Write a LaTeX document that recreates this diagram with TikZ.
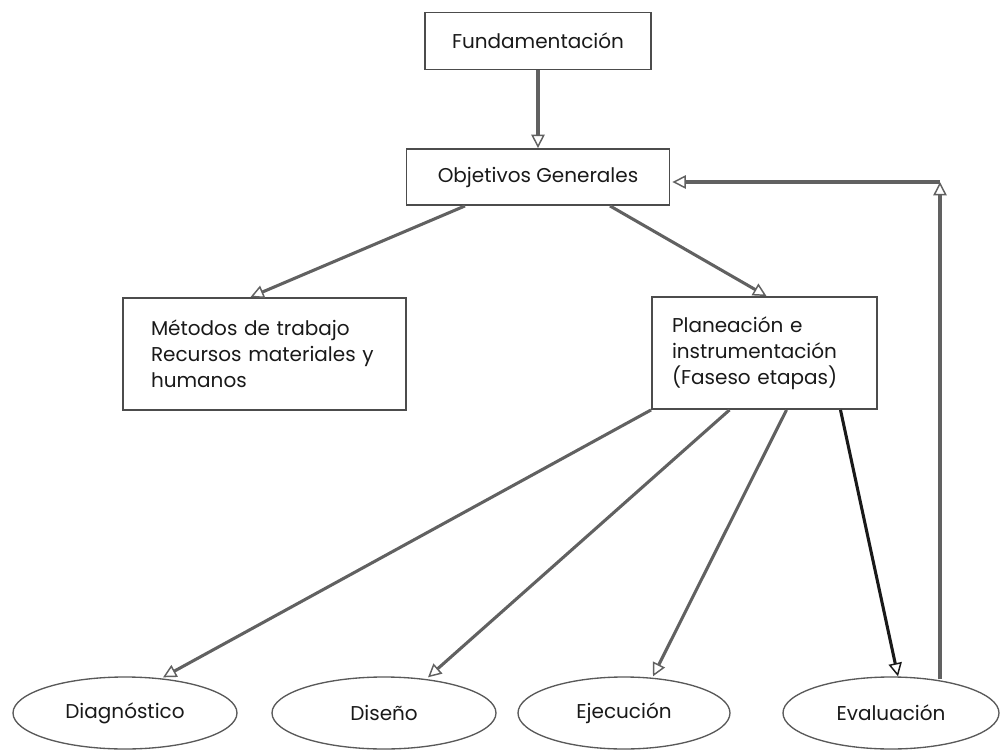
\documentclass[tikz,border=0pt]{standalone}
\usepackage{fontspec}
\setmainfont{Poppins}
\usetikzlibrary{calc}
\usetikzlibrary{shapes.geometric}
\usetikzlibrary{arrows.meta}

\newcommand{\pxu}{0.75pt}

\begin{document}
\begin{tikzpicture}[x=0.75pt,y=-0.75pt,
	box/.style={draw=black!70,line width=1.4pt,inner sep=0pt,font=\fontsize{15}{19.5}\selectfont,text=black!90},
	oval/.style={ellipse,draw=black!65,line width=1pt,inner sep=0pt,minimum height=72*\pxu,font=\fontsize{15}{19.5}\selectfont,text=black!90},
	arr/.style={draw=black!62,line width=2.3pt,-{Triangle[open,length=10pt,width=10pt,line width=1.1pt]}},
	darr/.style={draw=black!90,line width=2.3pt,-{Triangle[open,length=10pt,width=10pt,line width=1.1pt]}}]
	\useasboundingbox (0,0) rectangle (1001,750);
	\node [box,minimum width=226*\pxu,minimum height=57*\pxu] (fund) at (538,41) {Fundamentación};
	\node [box,minimum width=263*\pxu,minimum height=56*\pxu] (obj) at (538,177) {Objetivos Generales};
	\node [box,minimum width=283*\pxu,minimum height=112*\pxu,text width=227*\pxu,inner xsep=28*\pxu,align=left] (met) at (264.5,354) {Métodos de trabajo\\Recursos materiales y\\humanos};
	\node [box,minimum width=225*\pxu,minimum height=112*\pxu,text width=185*\pxu,inner xsep=20*\pxu,align=left] (plan) at (764.5,353) {Planeación e\\instrumentación\\(Faseso etapas)};
	\node [oval,minimum width=224*\pxu] (diag) at (125,713) {Diagnóstico};
	\node [oval,minimum width=224*\pxu] (dis) at (384,713) {Diseño};
	\node [oval,minimum width=212*\pxu] (eje) at (624,713) {Ejecución};
	\node [oval,minimum width=216*\pxu] (eva) at (891,713) {Evaluación};
	\coordinate (corner) at (940,182);
	\draw [arr] (fund) -- (obj);
	\draw [arr] ($(obj.south)+(-73,0)$) -- ($(met.north)+(-14,0)$);
	\draw [arr] ($(obj.south)+(72,0)$) -- ($(plan.north)+(2,0)$);
	\draw [arr] (plan.south west) -- ($(diag.north)+(38,1)$);
	\draw [arr] ($(plan.south)+(-35,0)$) -- ($(dis.north)+(44,1)$);
	\draw [arr] ($(plan.south)+(22,0)$) -- ($(eje.north)+(29,0)$);
	\draw [darr] ($(plan.south)+(76,0)$) -- ($(eva.north)+(7,0)$);
	\draw [arr] ($(eva.north)+(49,3)$) -- (corner);
	\draw [arr] (corner) -- ($(corner -| obj.east)+(2,0)$);
\end{tikzpicture}
\end{document}
